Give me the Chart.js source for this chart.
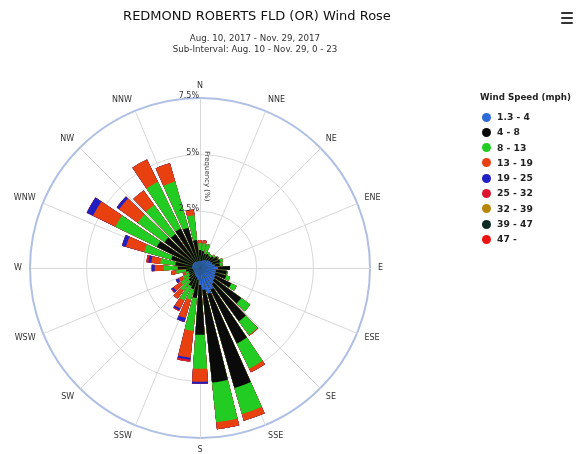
<!DOCTYPE html>
<html>
<head>
<meta charset="utf-8">
<title>REDMOND ROBERTS FLD (OR) Wind Rose</title>
<script src="https://cdn.jsdelivr.net/npm/chart.js@4.4.1/dist/chart.umd.min.js"></script>
<style>
  html, body { margin: 0; padding: 0; background: #fff; }
  #wrap { position: relative; width: 581px; height: 454px; font-family: "DejaVu Sans", sans-serif; color: #333; }
  #rose { position: absolute; left: 0; top: 0; }
  #title { position: absolute; left: 0; width: 514px; top: 8px; text-align: center; font-size: 13px; color: #111; white-space: nowrap; }
  #subtitle { position: absolute; left: 0; width: 510px; top: 33px; text-align: center; font-size: 8.7px; line-height: 10.5px; color: #333; white-space: nowrap; }
  #legend { position: absolute; left: 480px; top: 92px; font-size: 8.7px; font-weight: bold; color: #222; }
  #legend .head { margin-bottom: 9px; white-space: nowrap; }
  #legend .item { position: relative; height: 15.3px; line-height: 12px; padding-left: 17px; white-space: nowrap; font-size: 9.2px; }
  #legend .dot { position: absolute; left: 2px; top: 1.5px; width: 9px; height: 9px; border-radius: 50%; }
  #menu { position: absolute; left: 561px; top: 12px; width: 12px; }
  #menu div { height: 2px; background: #333; margin-bottom: 3px; border-radius: 1px; }
</style>
</head>
<body>
<div id="wrap">
  <canvas id="rose" width="581" height="454"></canvas>
  <div id="title"></div>
  <div id="subtitle"></div>
  <div id="legend"></div>
  <div id="menu"><div></div><div></div><div></div></div>
</div>
<script>
// Chart text
const chartTitle = 'REDMOND ROBERTS FLD (OR) Wind Rose';
const subtitleLines = ['Aug. 10, 2017 - Nov. 29, 2017', 'Sub-Interval: Aug. 10 - Nov. 29, 0 - 23'];
const legendTitle = 'Wind Speed (mph)';
const axisTitle = 'Frequency (%)';

// 36 direction bins (degrees from north, clockwise)
const directions = [0, 10, 20, 30, 40, 50, 60, 70, 80, 90, 100, 110, 120, 130, 140, 150, 160, 170,
                    180, 190, 200, 210, 220, 230, 240, 250, 260, 270, 280, 290, 300, 310, 320, 330, 340, 350];
const compassPoints = ['N', 'NNE', 'NE', 'ENE', 'E', 'ESE', 'SE', 'SSE', 'S', 'SSW', 'SW', 'WSW', 'W', 'WNW', 'NW', 'NNW'];
const radialTicks = [2.5, 5, 7.5];

// Speed classes (mph) and their colours
const speedBins = ['1.3 - 4', '4 - 8', '8 - 13', '13 - 19', '19 - 25', '25 - 32', '32 - 39', '39 - 47', '47 -'];
const binColors = ['#2e6ad9', '#0a0a0a', '#22cc22', '#e8400f', '#1f1fc4', '#dc1430', '#b8860b', '#0b2a22', '#ec1212'];

// Frequency (%) per direction for each speed class
const freq_1_4   = [0.31, 0.31, 0.35, 0.40, 0.44, 0.49, 0.53, 0.57, 0.66, 0.79, 0.71, 0.71, 0.75, 0.79, 0.88, 1.06, 1.19, 0.97,
                    0.75, 0.53, 0.44, 0.40, 0.35, 0.31, 0.31, 0.31, 0.31, 0.35, 0.35, 0.35, 0.35, 0.35, 0.35, 0.31, 0.31, 0.31];
const freq_4_8   = [0.48, 0.44, 0.31, 0.30, 0.22, 0.26, 0.35, 0.36, 0.22, 0.53, 0.48, 0.49, 0.79, 1.46, 2.03, 2.64, 4.32, 4.11,
                    2.20, 0.80, 0.53, 0.48, 0.36, 0.30, 0.22, 0.22, 0.31, 0.63, 0.75, 0.97, 1.77, 1.59, 1.50, 1.63, 1.54, 0.93];
const freq_8_13  = [0.31, 0.35, 0.44, 0.09, 0.09, 0.09, 0.05, 0.13, 0.13, 0.00, 0.04, 0.18, 0.26, 0.49, 0.75, 1.24, 1.19, 1.76,
                    1.50, 1.46, 0.49, 0.71, 0.53, 0.44, 0.31, 0.13, 0.44, 0.62, 0.66, 1.24, 2.03, 1.46, 1.59, 2.29, 2.12, 1.10];
const freq_13_19 = [0.13, 0.13, 0.00, 0.00, 0.00, 0.00, 0.00, 0.00, 0.00, 0.00, 0.00, 0.00, 0.00, 0.00, 0.04, 0.18, 0.31, 0.31,
                    0.57, 1.19, 0.84, 0.40, 0.44, 0.40, 0.22, 0.13, 0.22, 0.40, 0.40, 0.84, 1.10, 1.01, 0.79, 1.10, 0.84, 0.26];
const freq_19_25 = [0.00, 0.00, 0.00, 0.00, 0.00, 0.00, 0.00, 0.00, 0.00, 0.00, 0.00, 0.00, 0.00, 0.00, 0.00, 0.00, 0.00, 0.00,
                    0.09, 0.09, 0.18, 0.09, 0.00, 0.09, 0.13, 0.00, 0.00, 0.13, 0.13, 0.18, 0.31, 0.13, 0.00, 0.00, 0.00, 0.00];
const freq_25_32 = [0.00, 0.00, 0.00, 0.00, 0.00, 0.00, 0.00, 0.00, 0.00, 0.00, 0.00, 0.00, 0.00, 0.00, 0.00, 0.00, 0.00, 0.00,
                    0.00, 0.09, 0.00, 0.04, 0.00, 0.04, 0.00, 0.00, 0.00, 0.00, 0.09, 0.00, 0.00, 0.00, 0.00, 0.00, 0.00, 0.00];
const freq_32_39 = new Array(36).fill(0);
const freq_39_47 = new Array(36).fill(0);
const freq_47_up = new Array(36).fill(0);

const speedSeries = [freq_1_4, freq_4_8, freq_8_13, freq_13_19, freq_19_25, freq_25_32, freq_32_39, freq_39_47, freq_47_up];

// Wedge geometry: each 10-degree sector holds an 8-degree bar and a 2-degree gap
const BAR_DEG = 8;
const GAP_DEG = 2;

// Polar-area slices don't stack, so each class is drawn as the running total
// up to that class; the first (lightest) class sits on top.
const slotLabels = [];
directions.forEach(d => { slotLabels.push(d + '°'); slotLabels.push(''); });

const running = new Array(directions.length).fill(0);
const datasets = speedSeries.map((series, k) => {
  const data = [];
  series.forEach((v, i) => {
    running[i] += v;
    data.push(+running[i].toFixed(3));
    data.push(0);
  });
  return {
    label: speedBins[k],
    data: data,
    backgroundColor: binColors[k],
    borderWidth: 0,
    angle: (ctx) => (ctx.dataIndex % 2 === 0 ? BAR_DEG : GAP_DEG)
  };
});

// Title, subtitle and legend
document.getElementById('title').textContent = chartTitle;
document.getElementById('subtitle').innerHTML = subtitleLines.map(s => '<div>' + s + '</div>').join('');
const legendEl = document.getElementById('legend');
legendEl.innerHTML = '<div class="head">' + legendTitle + '</div>' +
  speedBins.map((b, k) => '<div class="item"><span class="dot" style="background:' + binColors[k] + '"></span>' + b + '</div>').join('');

// Compass spokes behind the bars, labels on top
const roseDecor = {
  id: 'roseDecor',
  beforeDatasetsDraw(chart) {
    const s = chart.scales.r;
    const ctx = chart.ctx;
    ctx.save();
    ctx.strokeStyle = '#d8d8d8';
    ctx.lineWidth = 1;
    compassPoints.forEach((p, k) => {
      const a = k * Math.PI / 8;
      ctx.beginPath();
      ctx.moveTo(s.xCenter + 0.5, s.yCenter + 0.5);
      ctx.lineTo(s.xCenter + 0.5 + s.drawingArea * Math.sin(a), s.yCenter + 0.5 - s.drawingArea * Math.cos(a));
      ctx.stroke();
    });
    ctx.restore();
  },
  afterDraw(chart) {
    const s = chart.scales.r;
    const ctx = chart.ctx;
    ctx.save();
    ctx.fillStyle = '#333';
    ctx.font = '8px "DejaVu Sans", sans-serif';
    ctx.textBaseline = 'middle';
    compassPoints.forEach((p, k) => {
      const a = k * Math.PI / 8;
      const sn = Math.sin(a);
      const deg = k * 22.5;
      // right half: text starts at the anchor; left half: text ends there; top/bottom: centred
      ctx.textAlign = (deg > 20 && deg < 160) ? 'left' : (deg > 200 && deg < 340) ? 'right' : 'center';
      const x = s.xCenter + (s.drawingArea + 8) * sn;
      const y = s.yCenter - (s.drawingArea + 12) * Math.cos(a);
      ctx.fillText(p, x, y);
    });
    // radial tick labels along the north spoke
    ctx.textAlign = 'right';
    ctx.textBaseline = 'alphabetic';
    radialTicks.forEach(v => {
      const y = s.yCenter - s.getDistanceFromCenterForValue(v);
      ctx.fillText(v + '%', s.xCenter - 1, y);
    });
    // axis title, rotated along the north spoke
    ctx.font = '7px "DejaVu Sans", sans-serif';
    ctx.translate(s.xCenter + 7, s.yCenter - s.drawingArea * 0.54);
    ctx.rotate(Math.PI / 2);
    ctx.textAlign = 'center';
    ctx.textBaseline = 'middle';
    ctx.fillText(axisTitle, 0, 0);
    ctx.restore();
  }
};

new Chart(document.getElementById('rose'), {
  type: 'polarArea',
  data: { labels: slotLabels, datasets: datasets },
  plugins: [roseDecor],
  options: {
    responsive: false,
    animation: false,
    events: [],
    layout: { padding: { left: 30, top: 98, right: 211, bottom: 16 } },
    plugins: {
      legend: { display: false },
      title: { display: false },
      tooltip: { enabled: false }
    },
    scales: {
      r: {
        min: 0,
        max: 7.5,
        startAngle: -BAR_DEG / 2,
        ticks: { display: false, stepSize: 2.5 },
        pointLabels: { display: false },
        angleLines: { display: false },
        grid: {
          circular: true,
          color: (ctx) => (ctx.tick && ctx.tick.value === 7.5 ? '#b0bfe4' : '#d8d8d8'),
          lineWidth: (ctx) => (ctx.tick && ctx.tick.value === 7.5 ? 2 : 1)
        }
      }
    }
  }
});
</script>
</body>
</html>
